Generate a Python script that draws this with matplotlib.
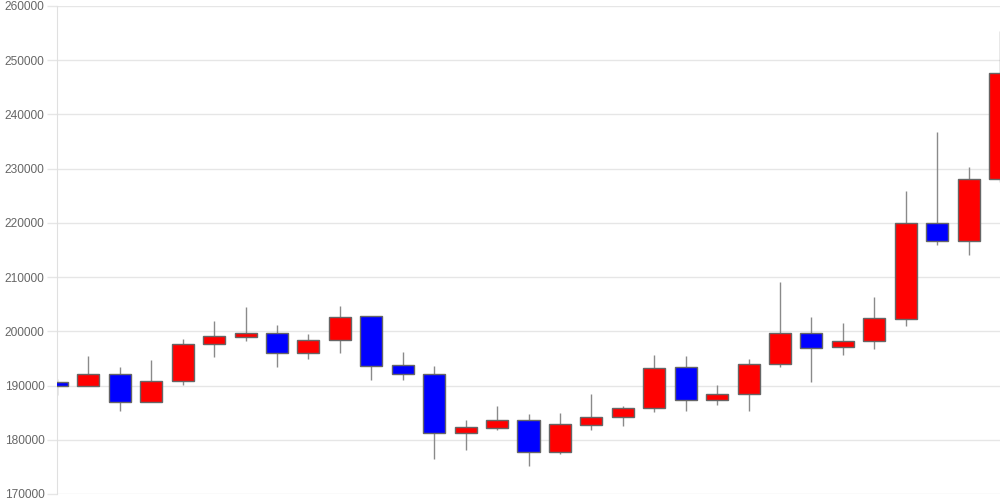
import matplotlib

matplotlib.use("Agg")

import matplotlib.pyplot as plt
import numpy as np

# daily OHLC values
opens = [190570, 189950, 192100, 187000, 190750, 197700, 199000, 199730, 195980, 198380,
         202750, 193700, 192160, 181160, 182200, 183560, 177660, 182700, 184170, 185780,
         193340, 187250, 188360, 193950, 199730, 197140, 198190, 202320, 220020, 216590,
         228020]
closes = [189950, 192100, 187000, 190750, 197700, 199060, 199730, 195980, 198380, 202560,
          193640, 192160, 181160, 182270, 183560, 177660, 182820, 184170, 185780, 193170,
          187250, 188360, 193950, 199730, 196960, 198250, 202380, 220020, 216590, 228020,
          247700]
highs = [191120, 195420, 193450, 194690, 198500, 201940, 204410, 201090, 199430, 204650,
         202750, 196160, 193520, 183620, 186260, 184720, 184910, 188410, 186260, 195610,
         195490, 190070, 194870, 209020, 202560, 201510, 206250, 225870, 236750, 230300,
         255440]
lows = [188230, 189950, 185330, 187000, 190130, 195300, 198250, 193450, 194930, 196040,
        191000, 191000, 176370, 178080, 181770, 175130, 177340, 181770, 182570, 185090,
        185330, 186440, 185330, 193450, 190690, 195550, 196660, 201020, 215960, 214120,
        227590]

y_ticks = np.arange(170000, 260001, 10000)

x = np.arange(len(opens))
o = np.array(opens)
c = np.array(closes)
colors = np.where(c >= o, "#ff0000", "#0000ff")

plt.rcParams["font.family"] = ["Liberation Sans", "DejaVu Sans"]

fig = plt.figure(figsize=(10, 5), dpi=100)
ax = fig.add_axes([0.057, 0.012, 0.943, 0.976])

ax.vlines(x, lows, highs, color="#8a8a8a", linewidth=1, zorder=2)
ax.bar(x, np.abs(c - o), bottom=np.minimum(o, c), width=0.7, color=colors,
       edgecolor="#666666", linewidth=1, zorder=3)

ax.set_xlim(0, len(opens) - 1)
ax.set_ylim(170000, 260000)
ax.set_yticks(y_ticks, labels=[str(t) for t in y_ticks])
ax.set_xticks([])
ax.grid(axis="y", color="#e6e6e6", linewidth=1, zorder=0)
ax.tick_params(axis="y", length=7, width=1, color="#e6e6e6", labelcolor="#666666",
               labelsize=8.6, pad=2)
for side in ("top", "right", "bottom"):
    ax.spines[side].set_visible(False)
ax.spines["left"].set_color("#e0e0e0")

fig.savefig("out.png", dpi=100)
plt.close(fig)
